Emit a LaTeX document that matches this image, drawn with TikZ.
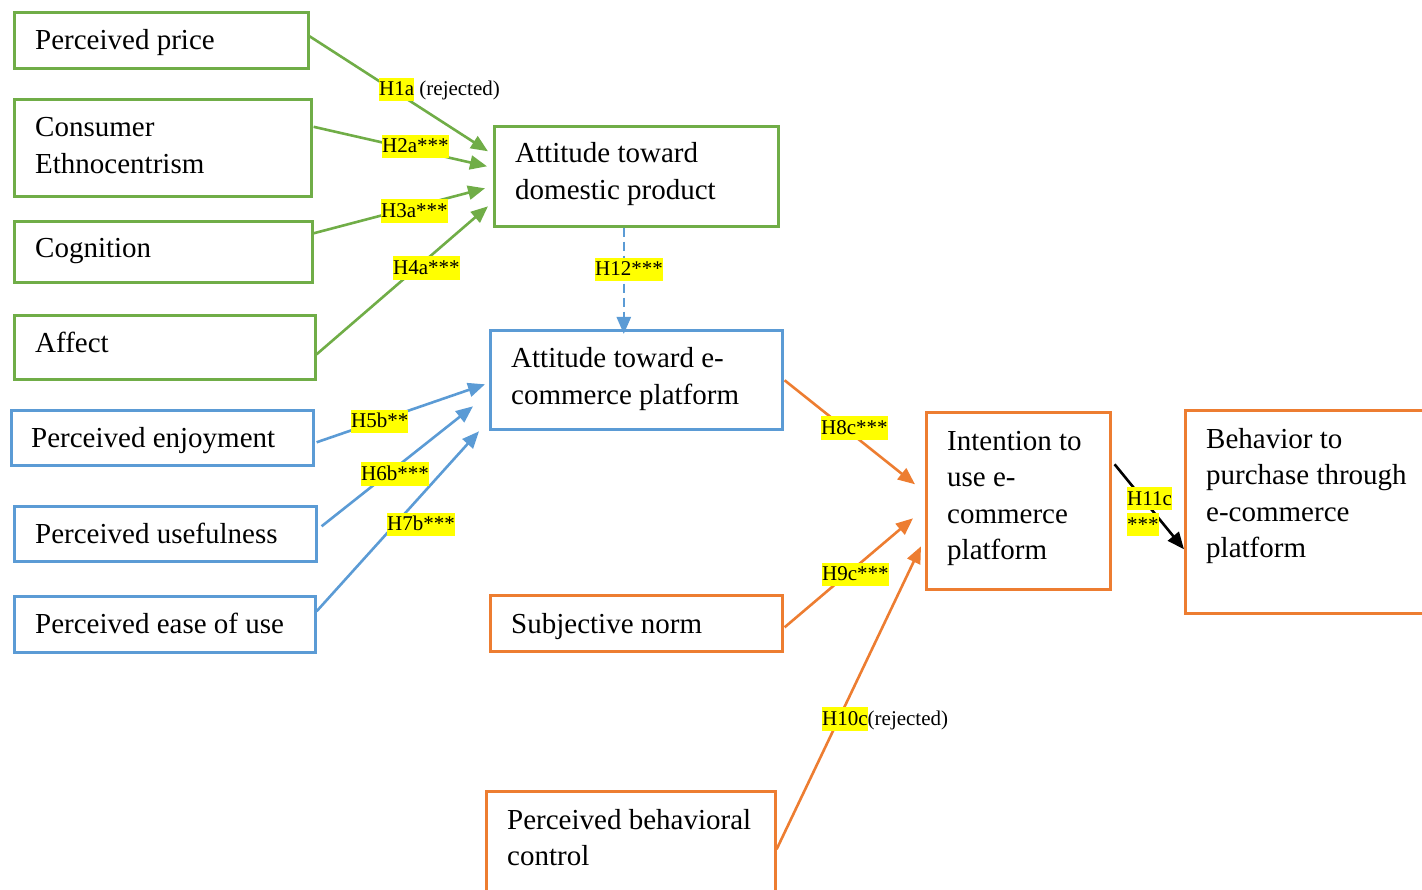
\documentclass[tikz,border=0pt]{standalone}
\usepackage{fontspec}
\setmainfont{Liberation Serif}
\usetikzlibrary{arrows.meta,calc}
\definecolor{grn}{HTML}{70AD47}
\definecolor{blu}{HTML}{5B9BD5}
\definecolor{org}{HTML}{ED7D31}
\definecolor{hly}{HTML}{FFFF00}
% yellow highlight behind a hypothesis label
\newcommand\hlab[1]{{\setlength\fboxsep{0pt}\colorbox{hly}{\rule[-0.25em]{0pt}{1.1em}#1}}}

\begin{document}
\begin{tikzpicture}[x=1pt,y=-1pt,
  box/.style={draw, line width=2.6pt, inner sep=0pt, anchor=north west},
  % texts are placed by the baseline of their last line
  txt/.style={anchor=base west, inner sep=0pt, align=left, font=\fontsize{29}{36.5}\selectfont},
  lbl/.style={anchor=west, inner sep=0pt, font=\fontsize{21}{23}\selectfont},
  link/.style={line width=2.6pt, -{Triangle[length=17pt,width=14pt]}},
]
\useasboundingbox (0,0) rectangle (1422,890);
\clip (0,0) rectangle (1422,890);

% ---- construct boxes ----
\node[box, draw=grn, minimum width=294pt, minimum height=56pt]  (pp)  at (13,11) {};
\node[box, draw=grn, minimum width=297pt, minimum height=97pt]  (ce)  at (13,98) {};
\node[box, draw=grn, minimum width=298pt, minimum height=61pt]  (cg)  at (13,220) {};
\node[box, draw=grn, minimum width=301pt, minimum height=64pt]  (af)  at (13,314) {};
\node[box, draw=grn, minimum width=284pt, minimum height=100pt] (atd) at (493,125) {};
\node[box, draw=blu, minimum width=302pt, minimum height=55pt]  (pe)  at (10,409) {};
\node[box, draw=blu, minimum width=302pt, minimum height=55pt]  (pu)  at (13,505) {};
\node[box, draw=blu, minimum width=301pt, minimum height=56pt]  (peu) at (13,595) {};
\node[box, draw=blu, minimum width=292pt, minimum height=99pt]  (ate) at (489,329) {};
\node[box, draw=org, minimum width=292pt, minimum height=56pt]  (sn)  at (489,594) {};
\node[box, draw=org, minimum width=289pt, minimum height=110pt] (pbc) at (485,790) {};
\node[box, draw=org, minimum width=184pt, minimum height=177pt] (int) at (925,411) {};
\node[box, draw=org, minimum width=256pt, minimum height=203pt] (beh) at (1184,409) {};

% ---- box texts ----
\node[txt] (tpp)  at (35,50)    {Perceived price};
\node[txt] (tce)  at (35,173.5) {Consumer\\Ethnocentrism};
\node[txt] (tcg)  at (35,258)   {Cognition};
\node[txt] (taf)  at (35,353)   {Affect};
\node[txt] (tatd) at (515,199.5) {Attitude toward\\domestic product};
\node[txt] (tpe)  at (31,448)   {Perceived enjoyment};
\node[txt] (tpu)  at (35,543)   {Perceived usefulness};
\node[txt] (tpeu) at (35,633)   {Perceived ease of use};
\node[txt] (tate) at (511,404.5) {Attitude toward e-\\commerce platform};
\node[txt] (tsn)  at (511,633)  {Subjective norm};
\node[txt] (tpbc) at (507,865.5) {Perceived behavioral\\control};
\node[txt] (tint) at (947,559.5) {Intention to\\use e-\\commerce\\platform};
\node[txt] (tbeh) at (1206,557.5) {Behavior to\\purchase through\\e-commerce\\platform};

% ---- hypothesised paths ----
\draw[link, grn] ($(pp.east)+(0,-4)$)   -- ($(atd.west)+(-5,-25)$);
\draw[link, grn] ($(ce.east)+(1,-21)$)  -- ($(atd.west)+(-6,-10)$);
\draw[link, grn] ($(cg.east)+(0,-18.5)$) -- ($(atd.west)+(-8,12)$);
\draw[link, grn] ($(af.east)+(0,7)$)    -- ($(atd.west)+(-5,30)$);
\draw[link, blu, dash pattern=on 9pt off 5pt] ($(atd.south)+(-12.5,0)$) -- ($(ate.north)+(-12.5,5)$);
\draw[link, blu] ($(pe.east)+(2,4.5)$)   -- ($(ate.west)+(-4,4.5)$);
\draw[link, blu] ($(pu.east)+(4,-7.5)$)  -- ($(ate.west)+(-16,26.5)$);
\draw[link, blu] ($(peu.east)+(0,-13)$)  -- ($(ate.west)+(-10,51.5)$);
\draw[link, org] ($(ate.east)+(1,0.5)$)  -- ($(int.west)+(-10,-16.5)$);
\draw[link, org] ($(sn.east)+(1,4)$)     -- ($(int.west)+(-12,17.5)$);
\draw[link, org] ($(pbc.east)+(0,3)$)    -- ($(int.west)+(-4,45.5)$);
\draw[link, black] ($(int.east)+(3,-36.5)$) -- ($(beh.west)+(0,37.5)$);

% ---- path labels ----
\node[lbl] (l1)  at (379,89.5)  {\hlab{H1a} (rejected)};
\node[lbl] (l2)  at (382,146.5) {\hlab{H2a***}};
\node[lbl] (l3)  at (381,211)   {\hlab{H3a***}};
\node[lbl] (l4)  at (393,268)   {\hlab{H4a***}};
\node[lbl] (l12) at (595,269.5) {\hlab{H12***}};
\node[lbl] (l5)  at (351,421.5) {\hlab{H5b**}};
\node[lbl] (l6)  at (361,474)   {\hlab{H6b***}};
\node[lbl] (l7)  at (387,524.5) {\hlab{H7b***}};
\node[lbl] (l8)  at (821,428)   {\hlab{H8c***}};
\node[lbl] (l9)  at (822,574.5) {\hlab{H9c***}};
\node[lbl] (l10) at (822,719)   {\hlab{H10c}(rejected)};
\node[lbl, anchor=north west, align=left, font=\fontsize{21}{26}\selectfont] (l11) at (1127,487) {\hlab{H11c}\\\hlab{***}};
\end{tikzpicture}
\end{document}
